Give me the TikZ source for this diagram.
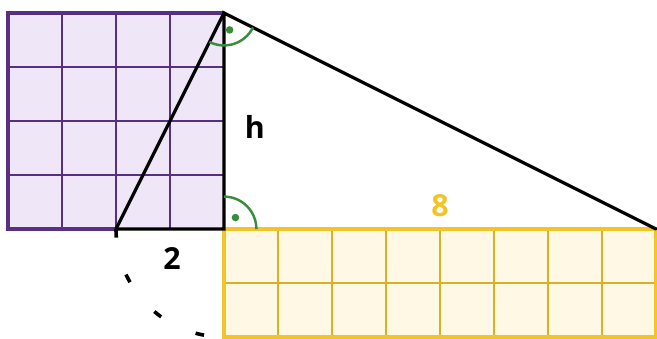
\documentclass[tikz,border=0pt]{standalone}
\usepackage{fontspec}
\setmainfont{Open Sans}
\usetikzlibrary{calc}
\definecolor{cPurple}{RGB}{88,48,130}
\definecolor{cLilac}{RGB}{239,230,247}
\definecolor{cGold}{RGB}{242,196,40}
\definecolor{cCream}{RGB}{255,248,228}
\definecolor{cGreen}{RGB}{56,140,60}
\tikzset{
	edge/.style={line width=1.7pt, black, line cap=round},
	sqborder/.style={line width=1.6pt, draw=cPurple},
	sqgrid/.style={line width=0.8pt, draw=cPurple},
	rcborder/.style={line width=1.6pt, draw=cGold},
	rcgrid/.style={line width=0.7pt, draw=cGold!90!black},
	rightmark/.style={line width=1.3pt, cGreen},
	lbl/.style={font=\fontsize{16}{18}\selectfont\bfseries, inner sep=1pt},
}
\begin{document}
\begin{tikzpicture}
	\useasboundingbox (-4.148,-2.019) rectangle (8.019,4.241);
	% corner points
	\coordinate (O) at (0,0);
	\coordinate (A) at (0,4);
	\coordinate (B) at (8,0);
	\coordinate (C) at (-2,0);
	% square on the left, 4 by 4
	\fill[cLilac] (-4,0) rectangle (A);
	\foreach \k in {1,2,3} {
		\draw[sqgrid] (-4+\k,0) -- (-4+\k,4);
		\draw[sqgrid] (-4,\k) -- (0,\k);
	}
	\draw[sqborder] (C) -- (-4,0) -- (-4,4) -- (A);
	% rectangle below, 8 by 2
	\fill[cCream] (O) rectangle (8,-2);
	\foreach \k in {1,...,7} {
		\draw[rcgrid] (\k,0) -- (\k,-2);
	}
	\draw[rcgrid] (0,-1) -- (8,-1);
	\draw[rcborder] (O) rectangle (8,-2);
	% triangle and the slanted side
	\draw[edge] (C) -- (O) -- (A) -- (B);
	\draw[edge] (C) -- (A);
	\draw[line width=1.9pt, dash pattern=on 0.16cm off 0.71cm] (C) arc (180:270:2);
	% right angles
	\draw[rightmark] ($(A)+(243.43:0.6)$) arc (243.43:333.43:0.6);
	\fill[cGreen] ($(A)+(288.43:0.33)$) circle (0.07);
	\draw[rightmark] ($(O)+(0:0.6)$) arc (0:90:0.6);
	\fill[cGreen] ($(O)+(45:0.3)$) circle (0.07);
	% labels
	\node[lbl] (h) at (0.57,1.89) {h};
	\node[lbl] (two) at (-0.96,-0.54) {2};
	\node[lbl, text=cGold] (eight) at (4.0,0.44) {8};
\end{tikzpicture}
\end{document}
